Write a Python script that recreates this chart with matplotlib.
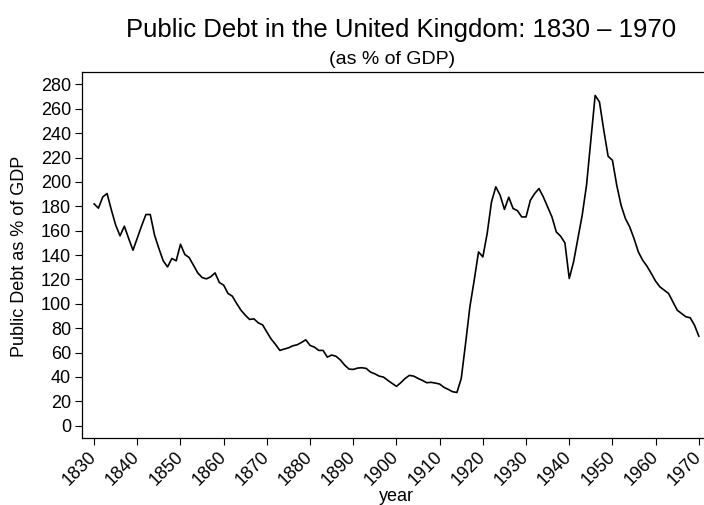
import numpy as np
import matplotlib
matplotlib.use('Agg')
import matplotlib.pyplot as plt

plt.rcParams['font.family'] = ['Liberation Sans', 'DejaVu Sans']

# UK public debt, % of GDP, one value per year
years = np.arange(1830, 1971)
debt_1830s = [182, 178.5, 187.7, 190.5, 177, 164.5, 155.8, 163.7, 153.6, 144]
debt_1840s = [154, 164, 173.3, 173.3, 156.3, 145.4, 135.3, 130.3, 137.2, 135.3]
debt_1850s = [148.9, 140.5, 138, 131.7, 125.4, 121.6, 120.5, 122.2, 125.4, 117.5]
debt_1860s = [115.3, 108.5, 106.3, 100.3, 94.8, 90.7, 87.2, 87.7, 84.4, 82.8]
debt_1870s = [76.8, 71.1, 66.7, 61.8, 62.9, 63.9, 65.6, 66.4, 68.3, 70.5]
debt_1880s = [65.9, 64.5, 61.8, 61.8, 56.3, 58, 57, 54, 49.8, 46.5]
debt_1890s = [46.2, 47.3, 47.6, 47, 44, 42.6, 40.7, 39.9, 37.2, 34.8]
debt_1900s = [32.3, 35.3, 38.8, 41.3, 40.7, 38.8, 37.2, 35.3, 35.6, 35]
debt_1910s = [34.2, 31.5, 29.8, 27.9, 27.3, 38.8, 67.5, 97.6, 119.4, 142.6]
debt_1920s = [138.5, 157.7, 183.6, 196, 189.1, 177.5, 187.5, 178.2, 176.5, 171.3]
debt_1930s = [171.3, 185, 190.5, 194.6, 187.7, 179.5, 171.3, 159, 155.5, 150]
debt_1940s = [120.8, 134.4, 153.6, 172.7, 197.3, 234.2, 271, 265.6, 242.4, 221.1]
debt_1950s = [217.8, 197.3, 180.9, 170, 163.1, 153.6, 142.6, 135.8, 130.9, 124.9]
debt_1960s = [118.6, 113.9, 111.2, 108.5, 101.6, 94.8, 92.1, 89.4, 88.6, 82.5]
debt_1970 = [73.5]

debt = (debt_1830s + debt_1840s + debt_1850s + debt_1860s + debt_1870s
        + debt_1880s + debt_1890s + debt_1900s + debt_1910s + debt_1920s
        + debt_1930s + debt_1940s + debt_1950s + debt_1960s + debt_1970)

x_ticks = np.arange(1830, 1971, 10)
y_ticks = np.arange(0, 281, 20)

fig = plt.figure(figsize=(7.04, 5.05), dpi=100)
ax = fig.add_axes([0.1165, 0.1333, 0.8835, 0.7241])

ax.plot(years, debt, color='black', linewidth=1.2)

ax.set_xlim(1827.2, 1971.2)
ax.set_ylim(-9.8, 290.2)
ax.set_xticks(x_ticks)
ax.set_yticks(y_ticks)
ax.set_xticklabels([str(t) for t in x_ticks], rotation=45, ha='right',
                   va='center', rotation_mode='anchor', fontsize=13)
ax.set_yticklabels([str(t) for t in y_ticks], fontsize=13)
ax.tick_params(direction='out', length=5, width=0.8, colors='black', pad=3)
ax.tick_params(axis='x', pad=7)

ax.spines['right'].set_visible(False)
for s in ['left', 'bottom', 'top']:
    ax.spines[s].set_linewidth(0.9)

ax.set_xlabel('year', fontsize=13, va='center')
ax.set_ylabel('Public Debt as % of GDP', fontsize=13, va='center')
ax.xaxis.set_label_coords(0.505, -0.161)
ax.yaxis.set_label_coords(-0.101, 0.4955)

fig.text(0.5696, 0.9406, 'Public Debt in the United Kingdom: 1830 \u2013 1970',
         ha='center', va='center', fontsize=18.5)
fig.text(0.557, 0.883, '(as % of GDP)', ha='center', va='center', fontsize=14)

fig.savefig('out.png', dpi=100)
